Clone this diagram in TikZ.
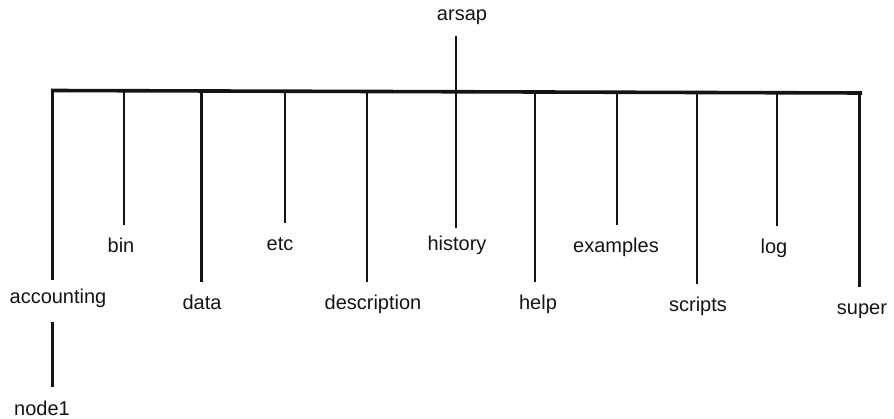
\documentclass[tikz,border=0pt]{standalone}
\usepackage{fontspec}
\setmainfont{Liberation Sans}
\begin{document}
\begin{tikzpicture}[x=1pt,y=-1pt,
  ink/.style={color=black!92},
  dirname/.style={ink, font=\fontsize{20}{24}\selectfont, inner sep=0pt,
    text height=14pt, text depth=5pt, anchor=base},
  bus/.style={ink, line width=3.6pt},
  branch/.style={ink, line width=2.2pt, shorten >=14pt}]
\useasboundingbox (0,0) rectangle (894,419);

% directory names (placed on their baselines)
\node[dirname] (arsap)  at (462,21)  {arsap};
\node[dirname] (acc)    at (58,304)  {accounting};
\node[dirname] (node1)  at (42,415)  {node1};
\node[dirname] (bin)    at (121,253) {bin};
\node[dirname] (data)   at (202,310) {data};
\node[dirname] (etc)    at (280,251) {etc};
\node[dirname] (desc)   at (373,310) {description};
\node[dirname] (hist)   at (457,251) {history};
\node[dirname] (help)   at (538,310) {help};
\node[dirname] (exam)   at (616,253) {examples};
\node[dirname] (scr)    at (698,312) {scripts};
\node[dirname] (log)    at (774,254) {log};
\node[dirname] (super)  at (862,315) {super};

% points where the branches leave the bus
\coordinate (busL) at (51,90.5);
\coordinate (busR) at (862,93);
\coordinate (pacc)  at (52.5,90.5);
\coordinate (pbin)  at (124,91);
\coordinate (pdata) at (201.5,91.2);
\coordinate (petc)  at (285,91.5);
\coordinate (pdesc) at (367,91.8);
\coordinate (phist) at (456,92);
\coordinate (phelp) at (535,92.3);
\coordinate (pexam) at (617,92.5);
\coordinate (pscr)  at (697,92.7);
\coordinate (plog)  at (777,92.9);
\coordinate (psup)  at (859.5,93);

% the bus
\draw[bus] (busL) -- (busR);

% root stem
\draw[branch, shorten >=0pt, shorten <=10pt] (arsap.south -| phist) -- (phist);

% branches
\draw[branch, shorten >=10pt] (pacc)  -- (pacc  |- acc.north);
\draw[branch] (pbin)  -- (pbin  |- bin.north);
\draw[branch] (pdata) -- (pdata |- data.north);
\draw[branch] (petc)  -- (petc  |- etc.north);
\draw[branch] (pdesc) -- (pdesc |- desc.north);
\draw[branch, shorten >=9pt] (phist) -- (phist |- hist.north);
\draw[branch] (phelp) -- (phelp |- help.north);
\draw[branch] (pexam) -- (pexam |- exam.north);
\draw[branch] (pscr)  -- (pscr  |- scr.north);
\draw[branch] (plog)  -- (plog  |- log.north);
\draw[branch] (psup)  -- (psup  |- super.north);

% sub-directory of accounting
\draw[branch, shorten <=13pt] (acc.south -| pacc) -- (node1.north -| pacc);
\end{tikzpicture}
\end{document}
